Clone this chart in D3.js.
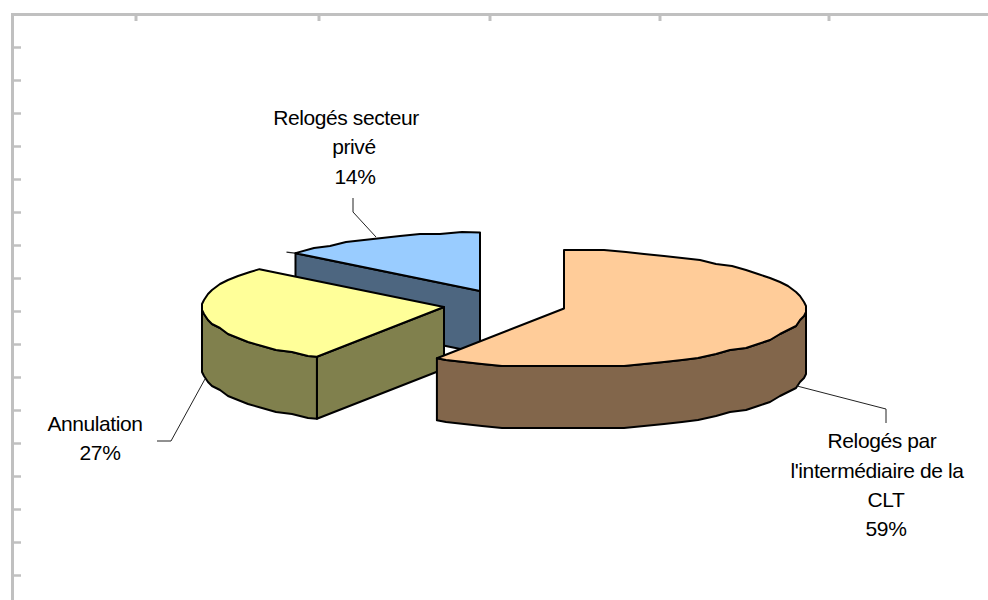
<!DOCTYPE html>
<html><head><meta charset="utf-8">
<script src="https://cdn.jsdelivr.net/npm/d3@7/dist/d3.min.js"></script>
<style>html,body{margin:0;padding:0;background:#fff}svg{display:block}
text{font-family:"Liberation Sans",Arial,sans-serif;font-size:21px;letter-spacing:-0.4px;fill:#000;text-anchor:middle}</style>
</head><body><svg id="c" width="988" height="600"></svg>
<script>
const categories = ["Relogés par l'intermédiaire de la CLT", "Annulation", "Relogés secteur privé"];
const seriesValues = [58.8, 27.4, 13.8];
const labelLines = [["Relogés par","l'intermédiaire de la","CLT","59%"],["Annulation","27%"],["Relogés secteur","privé","14%"]];
const topFill = ["#FFCC99","#FFFF99","#99CCFF"];
const wallFill = ["#82664B","#80804D","#4D6680"];
const leftTicks = d3.range(0,17);

const svg = d3.select("#c");
const RX = 242, RY = 58.5, DEPTH = 62, GRID = 2, STEP = 0.085;
const centers = [[564,308.5],[444,307],[480,291]];
const labelX = [[882,877,886,886],[95,100],[346,354,355]];
const labelY = [[448,478,507,536],[431,460],[125,154,184]];
const leaders = [[[797,386],[886,409],[886,423]],[[205,379],[171,441],[157,441]],[[376,237],[353,212],[353,198]]];
const topX = [136,319,490,660,829];

const frame = svg.append("g").attr("fill","none").attr("stroke","#C0C0C0");
frame.append("path").attr("d","M12.5,600V14.5H988").attr("stroke-width",3);
const yT = d3.scaleLinear().domain([0,16]).range([47.5,575.5]);
frame.selectAll(".t").data(topX).join("line").attr("x1",d=>d).attr("x2",d=>d).attr("y1",14).attr("y2",21).attr("stroke-width",3);
frame.selectAll(".l").data(leftTicks).join("line").attr("x1",13).attr("x2",21).attr("y1",d=>yT(d)).attr("y2",d=>yT(d)).attr("stroke-width",2.5);

const arcs = d3.pie().sort(null).value(d=>d)(seriesValues);
const pt = (c,a,dy=0)=>[c[0]+RX*Math.sin(a), c[1]-RY*Math.cos(a)+dy];
// the reference outline follows a coarse coordinate grid, hence the slightly rippled rim
const snap = p=>[Math.round(p[0]/GRID)*GRID, Math.round(p[1]/GRID)*GRID];
const rim = (c,a0,a1,dy=0)=>{
  const inner = [];
  for(let k=Math.ceil(a0/STEP+0.3); k*STEP<a1-0.02; k++) inner.push(k*STEP);
  const mid = inner.map(a=>snap(pt(c,a)));
  return [pt(c,a0)].concat(mid,[pt(c,a1)]).map(q=>[q[0],q[1]+dy]);
};
const line = d3.line();
const stroke = (s,i)=>s.attr("stroke","#000").attr("stroke-width",2).attr("stroke-linejoin","round").attr("data-category",categories[i]);

function drawWalls(i){
  const c = centers[i], a = arcs[i];
  const low = [c[0],c[1]+DEPTH];
  if(i===2){
    const p = pt(c,a.startAngle);
    stroke(svg.append("path").attr("fill",wallFill[i]).attr("d",line([c,p,[p[0],p[1]+DEPTH],low])+"Z"),i);
    stroke(svg.append("path").attr("fill","none").attr("d",line([[c[0],c[1]-RY],low])),i);
    svg.append("path").attr("fill","none").attr("stroke","#222").attr("stroke-width",1.2).attr("d",line([[p[0]-9,p[1]-1],[p[0]+8,p[1]+1]]));
  }
  if(i===1){
    const p = pt(c,a.startAngle);
    stroke(svg.append("path").attr("fill",wallFill[i]).attr("d",line([c,p,[p[0],p[1]+DEPTH],low])+"Z"),i);
    const a1 = 1.5*Math.PI;
    const r0 = rim(c,a.startAngle,a1), r1 = rim(c,a.startAngle,a1,DEPTH).reverse();
    stroke(svg.append("path").attr("fill",wallFill[i]).attr("d",line(r0.concat(r1))+"Z"),i);
  }
  if(i===0){
    const r0 = rim(c,Math.PI/2,a.endAngle), r1 = rim(c,Math.PI/2,a.endAngle,DEPTH).reverse();
    stroke(svg.append("path").attr("fill",wallFill[i]).attr("d",line(r0.concat(r1))+"Z"),i);
  }
}
function drawTop(i){
  const c = centers[i], a = arcs[i];
  stroke(svg.append("path").attr("fill",topFill[i]).attr("d",line([c].concat(rim(c,a.startAngle,a.endAngle)))+"Z"),i);
}
[2,1,0].forEach(i=>{drawWalls(i);drawTop(i);});

svg.selectAll(".ld").data(leaders).join("path").attr("fill","none").attr("stroke","#222").attr("stroke-width",1).attr("d",d=>line(d));
labelLines.forEach((ls,i)=>{
  const t = svg.append("text");
  ls.forEach((s,j)=>t.append("tspan").attr("x",labelX[i][j]).attr("y",labelY[i][j]).text(s));
});
</script></body></html>
